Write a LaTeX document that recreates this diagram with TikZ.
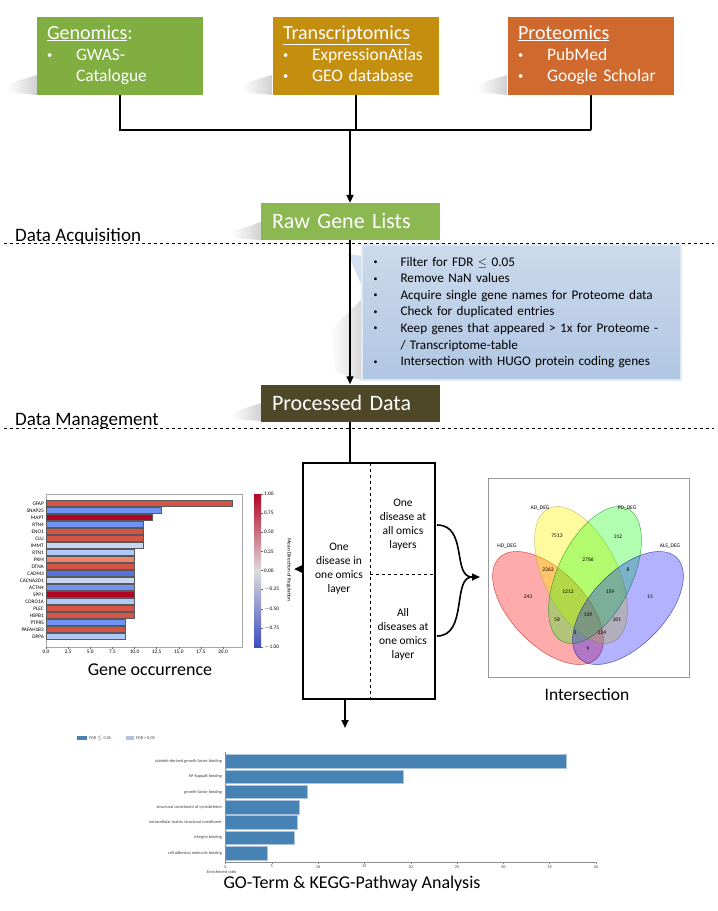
\documentclass[tikz,border=0pt]{standalone}
\usepackage{fontspec}
\setmainfont{Carlito}
\usetikzlibrary{arrows.meta,calc}
\definecolor{genc}{HTML}{80AE40}
\definecolor{trac}{HTML}{C48E0E}
\definecolor{proc}{HTML}{D0692D}
\definecolor{rawc}{HTML}{8CB852}
\definecolor{pdc}{HTML}{4E4829}
\definecolor{filtA}{HTML}{CCDAEC}
\definecolor{filtB}{HTML}{B0C6E2}
\definecolor{cwdred}{HTML}{B40426}
\definecolor{cwred}{HTML}{D55445}
\definecolor{cwsal}{HTML}{EE8468}
\definecolor{cwblue}{HTML}{6F92F3}
\definecolor{cwdblue}{HTML}{5672DE}
\definecolor{cwlblue}{HTML}{AFC8F6}
\definecolor{cwvlblue}{HTML}{C7D7F2}
\definecolor{cwmid}{HTML}{DDDCDC}
\definecolor{cwbot}{HTML}{3B4CC0}
\definecolor{gobar}{HTML}{4682B4}
\definecolor{golight}{HTML}{B0C4DE}
\newcommand{\smbul}{\raisebox{0.12em}{\scalebox{0.6}{\textbullet}}}
\newcommand{\srchead}[1]{{\fontsize{20pt}{22pt}\selectfont\underline{#1}}}
\begin{document}
\begin{tikzpicture}[x=1pt,y=-1pt,
  srcbox/.style={minimum width=166pt, minimum height=78pt, inner xsep=10pt, inner ysep=0pt, text width=146pt, align=left, text=white, font=\fontsize{17.5pt}{20.5pt}\selectfont},
  stagebox/.style={minimum width=179pt, minimum height=37pt, inner xsep=11pt, inner ysep=0pt, text width=157pt, align=left, text=white, font=\fontsize{22pt}{26pt}\selectfont},
  flow/.style={line width=2pt},
  thinflow/.style={line width=1.2pt},
  divline/.style={dashed, line width=0.7pt},
  sectlabel/.style={anchor=base west, inner sep=0pt, font=\fontsize{19pt}{22pt}\selectfont},
  boxtext/.style={align=center, font=\fontsize{11.5pt}{14pt}\selectfont},
  caption/.style={font=\fontsize{18pt}{21pt}\selectfont},
  tiny/.style={font=\fontsize{5.3pt}{6pt}\selectfont, inner sep=1pt},
  gotext/.style={font=\fontsize{4.3pt}{5pt}\selectfont, inner sep=1pt, text=black!75},
  vennlab/.style={font=\fontsize{5.5pt}{6pt}\selectfont, inner sep=0pt},
  tip/.style={-{Triangle[length=8pt,width=7pt]}},
  shadowish/.style={left color=white, right color=black!30, draw=none, opacity=0.6}
]
\useasboundingbox[fill=white] (0,0) rectangle (718,911);

% ---------- shadows ----------
\foreach \xl in {37,272,507}{
  \shade[shadowish] (\xl-30,84) -- (\xl,75) -- (\xl,95) -- (\xl-30,92) -- cycle;
}
\shade[shadowish] (231,232) -- (261,222) -- (261,240) -- (231,238) -- cycle;
\shade[shadowish] (231,413) -- (261,403) -- (261,421) -- (231,419) -- cycle;

% ---------- source boxes ----------
\node[srcbox, fill=genc] (gen) at (120,56) {%
  \begin{tabular}{@{}p{29pt}@{}l@{}}
  \multicolumn{2}{@{}l@{}}{\srchead{Genomics}{\fontsize{20pt}{22pt}\selectfont:}}\\[1pt]
  \smbul & GWAS-\\
  & Catalogue
  \end{tabular}};
\node[srcbox, fill=trac] (tra) at (356,56) {%
  \begin{tabular}{@{}p{29pt}@{}l@{}}
  \multicolumn{2}{@{}l@{}}{\srchead{Transcriptomics}}\\[1pt]
  \smbul & ExpressionAtlas\\
  \smbul & GEO database
  \end{tabular}};
\node[srcbox, fill=proc] (pro) at (591,56) {%
  \begin{tabular}{@{}p{29pt}@{}l@{}}
  \multicolumn{2}{@{}l@{}}{\srchead{Proteomics}}\\[1pt]
  \smbul & PubMed\\
  \smbul & Google Scholar
  \end{tabular}};

\coordinate (jg) at (120,130);
\coordinate (jt) at (356,130);
\coordinate (jp) at (591,130);
\coordinate (jm) at (350,130);

% ---------- stage boxes ----------
\node[stagebox, fill=rawc] (raw) at (350.5,221.5) {Raw Gene Lists};
\node[stagebox, fill=pdc] (pd) at (350.5,403) {Processed Data};

\draw[flow] (gen.south) -- (jg) -- (jp);
\draw[flow] (tra.south) -- (jt);
\draw[flow] (pro.south) -- (jp);
\draw[flow, tip] (jm) -- (raw.north -| jm);

% section separators
\node[sectlabel] (lacq) at (15,241) {Data Acquisition};
\node[sectlabel] (lman) at (15,425) {Data Management};
\coordinate (s1a) at (4,243); \coordinate (s1b) at (714,243);
\coordinate (s2a) at (4,428); \coordinate (s2b) at (714,428);
\draw[divline] (s1a) -- (s1b);
\draw[divline] (s2a) -- (s2b);

% ---------- filter callout ----------
\shade[left color=white, right color=black!25, opacity=0.6] (330,330) -- (361,300) -- (361,380) -- (335,372) -- cycle;
\fill[filtA!85!white] (361,256) -- (348,254) -- (361,284) -- cycle;
\node[draw=filtA!60!white, line width=2pt, top color=filtA, bottom color=filtB,
      minimum width=319pt, minimum height=135pt, inner xsep=12pt, text width=295pt, align=left,
      font=\fontsize{13.2pt}{16.6pt}\selectfont] (filt) at (521,312.5) {%
  \begin{tabular}{@{}p{27pt}@{}l@{}}
  \smbul & Filter for FDR \ensuremath{\leq} 0.05\\
  \smbul & Remove NaN values\\
  \smbul & Acquire single gene names for Proteome data\\
  \smbul & Check for duplicated entries\\
  \smbul & Keep genes that appeared > 1x for Proteome -\\
  & / Transcriptome-table\\
  \smbul & Intersection with HUGO protein coding genes
  \end{tabular}};

\draw[thinflow, tip] (raw.south -| jm) -- (pd.north -| jm);

% ---------- central box ----------
\node[draw, line width=2.2pt, minimum width=132pt, minimum height=236pt, inner sep=0pt] (cbox) at (369,581) {};
\coordinate (dvt) at (370,463);
\coordinate (dvb) at (370,699);
\coordinate (dhl) at (370,574);
\coordinate (dhr) at (435,574);
\draw[divline] (dvt) -- (dvb);
\draw[divline] (dhl) -- (dhr);
\draw[flow] (pd.south -| jm) -- (cbox.north -| jm);
\node[boxtext] (t1) at (339,569) {One\\disease in\\one omics\\layer};
\node[boxtext] (t2) at (403,525) {One\\disease at\\all omics\\layers};
\node[boxtext] (t3) at (403,634) {All\\diseases at\\one omics\\layer};

\coordinate (ltip) at (294,569);
\draw[flow, tip] (cbox.west |- ltip) -- (ltip);
\coordinate (dtip) at (345,728);
\draw[flow, tip] (cbox.south -| dtip) -- (dtip);

\coordinate (bt) at (437,525);
\coordinate (bb) at (437,636);
\coordinate (bm) at (480,577);
\draw[line width=1.6pt] (bt) .. controls (468,525) and (452,577) .. (472,577);
\draw[line width=1.6pt] (bb) .. controls (468,636) and (452,577) .. (472,577);
\draw[line width=1.6pt, tip] (471,577) -- (bm);

% ---------- gene occurrence chart ----------
\draw[black!35, line width=0.5pt] (46,494) rectangle (242,647);
\foreach \g/\v/\c [count=\i from 0] in {GFAP/21/cwred, SNAP25/13/cwblue, MAPT/12/cwdred, RTN4/11/cwblue, ENO1/11/cwred, CLU/11/cwred, IMMT/11/cwvlblue, RTN1/10/cwlblue, PKM/10/cwsal, DTNA/10/cwred, CADM3/10/cwdblue, CACNA2D1/10/cwvlblue, ACTN4/10/cwblue, SPP1/10/cwdred, CORO1A/10/cwlblue, PLEC/10/cwred, HSPB1/10/cwred, PTPRS/9/cwblue, PAFAH1B3/9/cwred, DPP6/9/cwlblue}{
  \pgfmathsetmacro\yc{503.5+7*\i}
  \draw[draw=black!65, line width=0.4pt, fill=\c] (46,\yc-3.1) rectangle ({46+8.85*\v},\yc+3.1);
  \node[tiny, anchor=east] (gl\i) at (45,\yc) {\g};
}
\foreach \t/\l [count=\k] in {0/0.0, 2.5/2.5, 5/5.0, 7.5/7.5, 10/10.0, 12.5/12.5, 15/15.0, 17.5/17.5, 20/20.0}{
  \draw[black!60, line width=0.4pt] ({46+8.85*\t},647) -- ({46+8.85*\t},649);
  \node[tiny, anchor=north] (gx\k) at ({46+8.85*\t},649) {\l};
}
\shade[top color=cwdred, bottom color=cwmid] (254,494) rectangle (261,570.5);
\shade[top color=cwmid, bottom color=cwbot] (254,570.5) rectangle (261,647);
\foreach \l [count=\k from 0] in {1.00,0.75,0.50,0.25,0.00,$-$0.25,$-$0.50,$-$0.75,$-$1.00}{
  \draw[black!60, line width=0.4pt] (261,{494+19.125*\k}) -- (263,{494+19.125*\k});
  \node[tiny, anchor=west] (cb\k) at (263,{494+19.125*\k}) {\l};
}
\node[tiny, rotate=-90] (cblab) at (289,570) {Mean Direction of Regulation};
\node[caption] (capg) at (150,670) {Gene occurrence};

% ---------- Venn diagram ----------
\draw[black!40, line width=0.6pt] (488,478) rectangle (689,677);
\begin{scope}[line width=0.5pt]
\fill[red, opacity=0.33] (548,608) [rotate around={-46:(548,608)}] ellipse [x radius=70, y radius=37];
\draw[red!70!black, opacity=0.6] (548,608) [rotate around={-46:(548,608)}] ellipse [x radius=70, y radius=37];
\fill[yellow, opacity=0.38] (581,575) [rotate around={-64:(581,575)}] ellipse [x radius=74, y radius=37];
\draw[yellow!60!black, opacity=0.6] (581,575) [rotate around={-64:(581,575)}] ellipse [x radius=74, y radius=37];
\fill[green, opacity=0.3] (595,575) [rotate around={64:(595,575)}] ellipse [x radius=74, y radius=37];
\draw[green!50!black, opacity=0.6] (595,575) [rotate around={64:(595,575)}] ellipse [x radius=74, y radius=37];
\fill[blue, opacity=0.3] (628,608) [rotate around={46:(628,608)}] ellipse [x radius=70, y radius=37];
\draw[blue!60!black, opacity=0.6] (628,608) [rotate around={46:(628,608)}] ellipse [x radius=70, y radius=37];
\end{scope}
\node[vennlab] (vad) at (540,508) {AD\_DEG};
\node[vennlab] (vpd) at (627,508) {PD\_DEG};
\node[vennlab] (vhd) at (507,546) {HD\_DEG};
\node[vennlab] (vals) at (670,546) {ALS\_DEG};
\foreach \n/\px/\py [count=\k] in {7513/557/536, 312/618/537, 2786/588/560, 2363/548/570, 8/628/570, 243/528/597, 1212/568/592, 159/610/592, 15/650/597, 58/557/620, 139/588/615, 301/617/620, 3/575/633, 224/602/633, 9/588/649}{
  \node[vennlab] (vn\k) at (\px,\py) {\n};
}
\node[caption, font=\fontsize{17.5pt}{20pt}\selectfont] (capi) at (587,695) {Intersection};

% ---------- GO chart ----------
\fill[gobar] (77,736) rectangle (87,740);
\node[gotext, anchor=west] (lg1) at (88,738) {FDR \ensuremath{\leq} 0.05};
\fill[golight] (126,736) rectangle (134,740);
\node[gotext, anchor=west] (lg2) at (135,738) {FDR > 0.05};
\foreach \lab/\v [count=\i from 0] in {platelet-derived growth factor binding/36.8, NF-kappaB binding/19.2, growth factor binding/8.8, structural constituent of cytoskeleton/8.0, extracellular matrix structural constituent/7.7, integrin binding/7.4, cell adhesion molecule binding/4.5}{
  \pgfmathsetmacro\yc{761.3+15.3*\i}
  \draw[draw=golight, fill=gobar, line width=0.6pt] (225.5,\yc-6.8) rectangle ({225.5+9.26*\v},\yc+6.8);
  \node[gotext, anchor=east] (go\i) at (223,\yc) {\lab};
}
\draw[black!45, line width=0.5pt] (225.5,752) -- (225.5,862) -- (596,862);
\foreach \t [count=\k] in {0,5,...,40}{
  \draw[black!45, line width=0.4pt] ({225.5+9.26*\t},862) -- ({225.5+9.26*\t},864);
  \node[gotext, anchor=north] (gt\k) at ({225.5+9.26*\t},864) {\t};
}
\node[gotext, anchor=north west] (glab) at (206,869) {Enrichment ratio};
\node[caption] (capgo) at (352,884) {GO-Term \& KEGG-Pathway Analysis};
\end{tikzpicture}
\end{document}
